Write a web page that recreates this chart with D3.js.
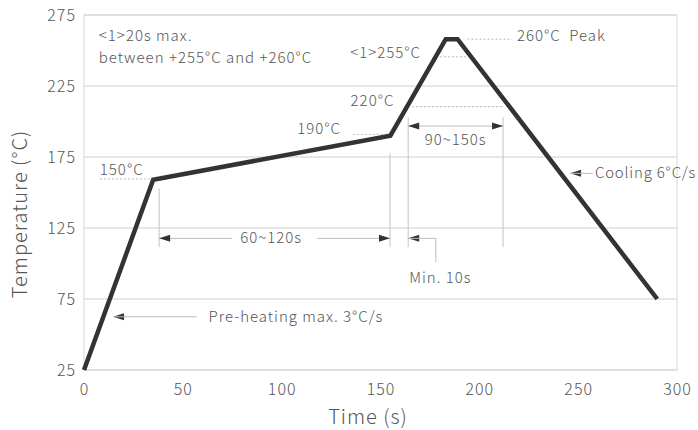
<!DOCTYPE html>
<html>
<head>
<meta charset="utf-8">
<script src="https://cdn.jsdelivr.net/npm/d3@7"></script>
<style>
  body { margin: 0; background: #fff; }
  svg text { font-family: "Noto Sans CJK SC", "Noto Sans", sans-serif; font-weight: 300; fill: #555; letter-spacing: 1px; }
</style>
</head>
<body>
<div id="chart"></div>
<script>
// reflow profile (time in s, temperature in °C)
const profileTime = [0, 35, 155, 183, 189, 290];
const profileTemp = [25, 159, 190, 258, 258, 75];

const xTicks = [0, 50, 100, 150, 200, 250, 300];
const yTicks = [25, 75, 125, 175, 225, 275];

// dotted reference lines: [t0, t1, temp]
const dottedLines = [
  [8, 33, 159.5],
  [136, 154, 191],
  [166, 212, 210.5],
  [180, 194, 245.5],
  [194, 216.5, 258],
];
// level labels: [text, t, temp, anchor]
const levelLabels = [
  ['150°C', 8, 162, 'start'],
  ['190°C', 130, 191, 'end'],
  ['220°C', 157, 211, 'end'],
  ['<1>255°C', 170.5, 244.5, 'end'],
  ['260°C  Peak', 219, 257, 'start'],
  ['<1>20s max.', 7.5, 256.5, 'start'],
  ['between +255°C and +260°C', 7.5, 241, 'start'],
];
// vertical marker lines: [t, tempTop, tempBottom]
const markers = [
  [38, 153, 111.5],
  [154.8, 177.5, 111.5],
  [164, 203, 111.5],
  [212, 203, 111.5],
];

const width = 698, height = 430;
const margin = { top: 15, right: 21, bottom: 60, left: 84 };

const svg = d3.select('#chart').append('svg')
  .attr('width', width)
  .attr('height', height);

const x = d3.scaleLinear().domain([0, 300]).range([margin.left, width - margin.right]);
const y = d3.scaleLinear().domain([25, 275]).range([height - margin.bottom, margin.top]);

// horizontal grid
svg.append('g')
  .selectAll('line')
  .data(yTicks)
  .join('line')
  .attr('x1', x(0))
  .attr('x2', x(300))
  .attr('y1', (d) => y(d))
  .attr('y2', (d) => y(d))
  .attr('stroke', '#cfcfcf')
  .attr('stroke-width', 1);

// frame
svg.append('rect')
  .attr('x', x(0))
  .attr('y', y(275))
  .attr('width', x(300) - x(0))
  .attr('height', y(25) - y(275))
  .attr('fill', 'none')
  .attr('stroke', '#d8d8d8');

// axes (labels only)
const xAxis = svg.append('g')
  .attr('transform', `translate(0,${y(25)})`)
  .call(d3.axisBottom(x).tickValues(xTicks).tickSize(0).tickPadding(14));
const yAxis = svg.append('g')
  .attr('transform', `translate(${x(0)},0)`)
  .call(d3.axisLeft(y).tickValues(yTicks).tickSize(0).tickPadding(8));
[xAxis, yAxis].forEach((g) => {
  g.select('.domain').remove();
  g.selectAll('text').style('font-size', '16px').attr('fill', '#555');
});

svg.append('text')
  .attr('x', 368)
  .attr('y', 424)
  .attr('text-anchor', 'middle')
  .style('font-size', '20px')
  .text('Time (s)');

svg.append('text')
  .attr('transform', 'translate(27,214) rotate(-90)')
  .attr('text-anchor', 'middle')
  .style('font-size', '20px')
  .text('Temperature (°C)');

// dotted levels
svg.append('g')
  .selectAll('line')
  .data(dottedLines)
  .join('line')
  .attr('x1', (d) => x(d[0]))
  .attr('x2', (d) => x(d[1]))
  .attr('y1', (d) => y(d[2]))
  .attr('y2', (d) => y(d[2]))
  .attr('stroke', '#bbb')
  .attr('stroke-dasharray', '2,2');

// vertical markers
svg.append('g')
  .selectAll('line')
  .data(markers)
  .join('line')
  .attr('x1', (d) => x(d[0]))
  .attr('x2', (d) => x(d[0]))
  .attr('y1', (d) => y(d[1]))
  .attr('y2', (d) => y(d[2]))
  .attr('stroke', '#c4c4c4');

svg.append('g')
  .selectAll('text')
  .data(levelLabels)
  .join('text')
  .attr('x', (d) => x(d[1]))
  .attr('y', (d) => y(d[2]))
  .attr('text-anchor', (d) => d[3])
  .style('font-size', '15px')
  .attr('xml:space', 'preserve')
  .text((d) => d[0]);

// arrow helpers
const head = (tipX, tipY, dir) => {
  const l = 11, w = 3.5;
  svg.append('path')
    .attr('d', `M${tipX},${tipY}L${tipX - dir * l},${tipY - w}L${tipX - dir * l},${tipY + w}Z`)
    .attr('fill', '#333');
};
const thin = (pts) => {
  svg.append('path')
    .attr('d', d3.line()(pts))
    .attr('fill', 'none')
    .attr('stroke', '#bbb');
};

// 60~120s
const yA = y(117.7);
thin([[x(38), yA], [x(75), yA]]);
thin([[x(118), yA], [x(154.8), yA]]);
head(x(38), yA, -1);
head(x(154.8), yA, 1);
svg.append('text').attr('x', x(79)).attr('y', yA + 5).style('font-size', '15px').text('60~120s');

// min 10s
head(x(164), yA, -1);
thin([[x(164), yA], [x(178), yA], [x(178), y(101)]]);
svg.append('text').attr('x', x(164.5)).attr('y', y(89.8) + 5).style('font-size', '15px').text('Min. 10s');

// 90~150s
const yB = y(196.8);
thin([[x(164), yB], [x(212), yB]]);
head(x(164), yB, -1);
head(x(212), yB, 1);
svg.append('text').attr('x', x(188)).attr('y', y(187) + 5).attr('text-anchor', 'middle').style('font-size', '15px').text('90~150s');

// cooling
const yC = y(163.5);
head(x(245.9), yC, -1);
thin([[x(245.9), yC], [x(257.5), yC]]);
svg.append('text').attr('x', x(258.5)).attr('y', yC + 5).style('font-size', '15px').style('letter-spacing', '0.8px').text('Cooling 6°C/s');

// pre-heating
const yD = y(62.5);
head(x(14.7), yD, -1);
thin([[x(14.7), yD], [x(57), yD]]);
svg.append('text').attr('x', x(63)).attr('y', yD + 5).style('font-size', '15px').text('Pre-heating max. 3°C/s');

// profile
const profile = profileTime.map((t, i) => [t, profileTemp[i]]);
svg.append('path')
  .datum(profile)
  .attr('d', d3.line().x((d) => x(d[0])).y((d) => y(d[1])))
  .attr('fill', 'none')
  .attr('stroke', '#333')
  .attr('stroke-width', 4.5)
  .attr('stroke-linejoin', 'miter');
</script>
</body>
</html>
